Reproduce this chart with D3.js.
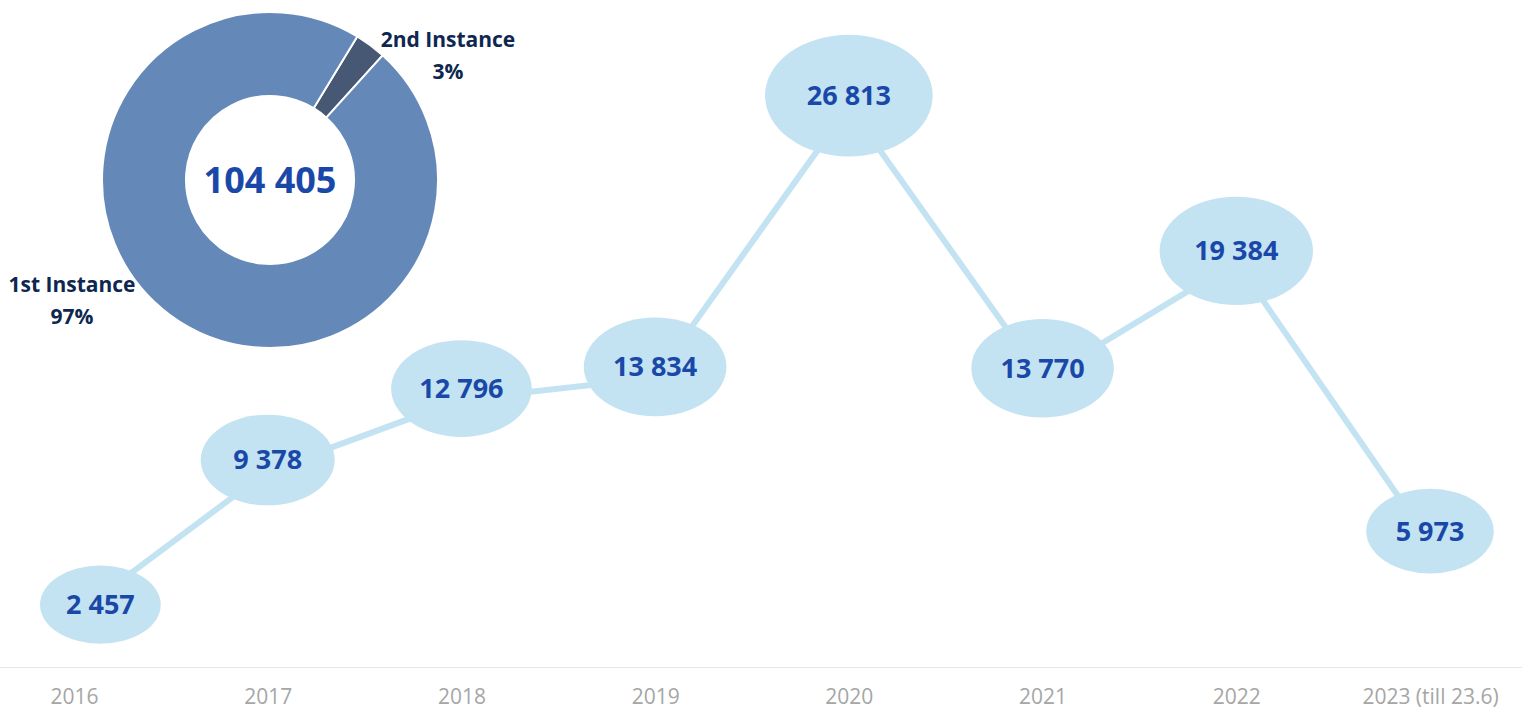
<!DOCTYPE html>
<html>
<head>
<meta charset="utf-8">
<script src="https://cdn.jsdelivr.net/npm/d3@7"></script>
<style>
  html, body { margin: 0; padding: 0; background: #ffffff; }
  svg { display: block; font-family: "Open Sans", "Noto Sans", sans-serif; }
</style>
</head>
<body>
<svg id="chart" width="1522" height="716"></svg>
<script>
// ---- data ----
const years = ["2016", "2017", "2018", "2019", "2020", "2021", "2022", "2023 (till 23.6)"];
const cases = [2457, 9378, 12796, 13834, 26813, 13770, 19384, 5973];
const instanceNames = ["2nd Instance", "1st Instance"];
const instanceShares = [3, 97];
const totalCases = 104405;

// ---- layout ----
const W = 1522, H = 716;
const svg = d3.select("#chart");
const fmt = v => d3.format(",")(v).replace(/,/g, " ");

const x = d3.scalePoint().domain(years).range([74, 1430]);
const y = d3.scaleLinear().domain([0, 30000]).range([667, 40]);
const rx = d3.scaleLinear().domain([0, 27000]).range([58, 84]);
const ry = d3.scaleLinear().domain([0, 27000]).range([37, 61]);

const data = years.map((yr, i) => ({ year: yr, value: cases[i] }));

// axis baseline
const axis = d3.axisBottom(x).tickSize(0).tickPadding(22);
const gAxis = svg.append("g").attr("transform", `translate(0,${y(0)})`).call(axis);
gAxis.select(".domain").remove();
gAxis.append("line").attr("x1", 0).attr("x2", W).attr("y1", 0.5).attr("y2", 0.5)
  .attr("stroke", "#e6e6e6").attr("stroke-width", 1);
gAxis.selectAll(".tick text")
  .attr("fill", "#a6a6a6").style("font-size", "21px").style("font-family", "'Open Sans', sans-serif");

// line
const line = d3.line().x(d => x(d.year)).y(d => y(d.value));
svg.append("path").datum(data).attr("d", line)
  .attr("fill", "none").attr("stroke", "#c3e3f2").attr("stroke-width", 6);

// ellipse labels
const labelLift = 11, leftBound = 40;
const lab = svg.append("g").selectAll("g").data(data).join("g")
  .attr("transform", d => {
    const cx = Math.max(x(d.year), leftBound + rx(d.value));
    return `translate(${cx},${y(d.value) - labelLift})`;
  });
lab.append("ellipse")
  .attr("rx", d => rx(d.value)).attr("ry", d => ry(d.value))
  .attr("fill", "#c3e3f2");
lab.append("text")
  .attr("text-anchor", "middle").attr("dy", "0.35em")
  .attr("fill", "#1a48a8").style("font-size", "27px").style("font-weight", 700)
  .text(d => fmt(d.value));

// donut
const cxD = 270, cyD = 180, R = 168, r0 = 84;
const start = 31.3 * Math.PI / 180;
const pie = d3.pie().sort(null).value(d => d.v).startAngle(start).endAngle(start + 2 * Math.PI);
const arcs = pie(instanceNames.map((n, i) => ({ name: n, v: instanceShares[i] })));
const arc = d3.arc().innerRadius(r0).outerRadius(R);
const color = d3.scaleOrdinal().domain(instanceNames).range(["#475874", "#6489b9"]);
const gD = svg.append("g").attr("transform", `translate(${cxD},${cyD})`);
gD.selectAll("path").data(arcs).join("path")
  .attr("d", arc).attr("fill", d => color(d.data.name))
  .attr("stroke", "#ffffff").attr("stroke-width", 2);

gD.append("text").attr("text-anchor", "middle").attr("dy", "0.35em")
  .attr("fill", "#1a48a8").style("font-size", "36px").style("font-weight", 700)
  .text(fmt(totalCases));

// donut labels (placed outside slices)
const labelPos = { "2nd Instance": [178, -133], "1st Instance": [-198, 112] };
const dl = gD.selectAll("g.lbl").data(arcs).join("g").attr("class", "lbl")
  .attr("transform", d => `translate(${labelPos[d.data.name][0]},${labelPos[d.data.name][1]})`);
dl.append("text").attr("text-anchor", "middle")
  .attr("fill", "#0e2750").style("font-size", "21px").style("font-weight", 700)
  .text(d => d.data.name);
dl.append("text").attr("text-anchor", "middle").attr("y", 32)
  .attr("fill", "#0e2750").style("font-size", "21px").style("font-weight", 700)
  .text(d => Math.round(d.data.v) + "%");
</script>
</body>
</html>
